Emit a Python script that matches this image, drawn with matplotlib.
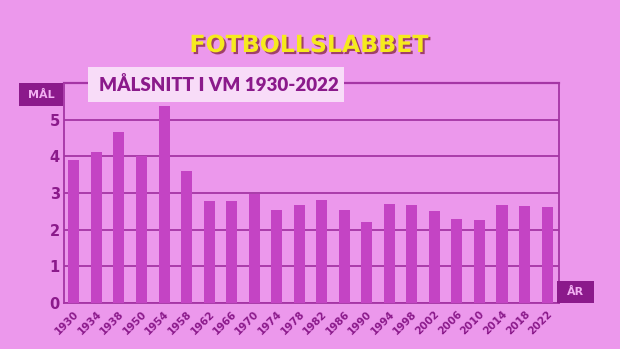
import matplotlib
matplotlib.use("Agg")
import matplotlib.pyplot as plt
import matplotlib.patheffects as pe
from matplotlib.patches import Rectangle

years = ["1930", "1934", "1938", "1950", "1954", "1958", "1962", "1966", "1970", "1974", "1978",
         "1982", "1986", "1990", "1994", "1998", "2002", "2006", "2010", "2014", "2018", "2022"]
goals = [3.89, 4.12, 4.67, 4.00, 5.38, 3.60, 2.78, 2.78, 2.97, 2.55, 2.68,
         2.81, 2.54, 2.21, 2.71, 2.67, 2.52, 2.30, 2.27, 2.67, 2.64, 2.62]
yticks = [0, 1, 2, 3, 4, 5]

BG = "#EC98EC"
BAR = "#C444C4"
GRID = "#A535A5"
DARK = "#8B1A8B"
BOXLIGHT = "#F8DCF8"

fig = plt.figure(figsize=(6.2, 3.49), dpi=100)
fig.patch.set_facecolor(BG)
ax = fig.add_axes([64/620, 1-303/349, (559-64)/620, (303-83)/349])
ax.set_facecolor(BG)

x = list(range(len(years)))
ax.bar(x, goals, width=0.49, color=BAR, zorder=3)
ax.set_xlim(-0.44, 21.53)
ax.set_ylim(0, 6)
ax.set_yticks(yticks)
ax.set_yticklabels([str(t) for t in yticks], fontsize=10.5, fontweight="bold", color=DARK)
ax.set_xticks(x)
ax.set_xticklabels(years, rotation=45, ha="right", va="top", rotation_mode="anchor",
                   fontsize=7.5, fontweight="bold", color=DARK)
ax.tick_params(axis="both", length=0, pad=3)
ax.tick_params(axis="x", pad=4)
ax.grid(axis="y", color=GRID, linewidth=1.3, zorder=1)
ax.axhline(6, color=GRID, linewidth=1.6, zorder=1, clip_on=False)
for s in ["left", "right", "bottom"]:
    ax.spines[s].set_color(GRID)
    ax.spines[s].set_linewidth(1.3)
ax.spines["top"].set_visible(False)

# Title box
fig.patches.append(Rectangle((88/620, 1-102/349), (344-88)/620, (102-67)/349,
                             transform=fig.transFigure, facecolor=BOXLIGHT, edgecolor="none", zorder=5))
fig.text(219/620, 1-85/349, "MÅLSNITT I VM 1930-2022", ha="center", va="center",
         fontsize=13.5, fontweight="heavy", color=DARK, family="Lato", zorder=6)

# MÅL box
fig.patches.append(Rectangle((19/620, 1-106/349), (63-19)/620, (106-83)/349,
                             transform=fig.transFigure, facecolor=DARK, edgecolor="none", zorder=5))
fig.text(41/620, 1-94.5/349, "MÅL", ha="center", va="center", fontsize=8, fontweight="bold",
         color="#F2B0F2", zorder=6)

# ÅR box
fig.patches.append(Rectangle((557/620, 1-303/349), (594-557)/620, (303-281)/349,
                             transform=fig.transFigure, facecolor=DARK, edgecolor="none", zorder=5))
fig.text(575.5/620, 1-292/349, "ÅR", ha="center", va="center", fontsize=8, fontweight="bold",
         color="#F2B0F2", zorder=6)

# Logo
fig.text(309/620, 1-45/349, "FOTBOLLSLABBET", ha="center", va="center", fontsize=17,
         fontweight="heavy", color="#F6EA1E", family="DejaVu Sans",
         path_effects=[pe.withSimplePatchShadow(offset=(1.5, -1.5), shadow_rgbFace="#A0406A", alpha=1.0)])

fig.savefig("out.png", dpi=100, facecolor=BG)
